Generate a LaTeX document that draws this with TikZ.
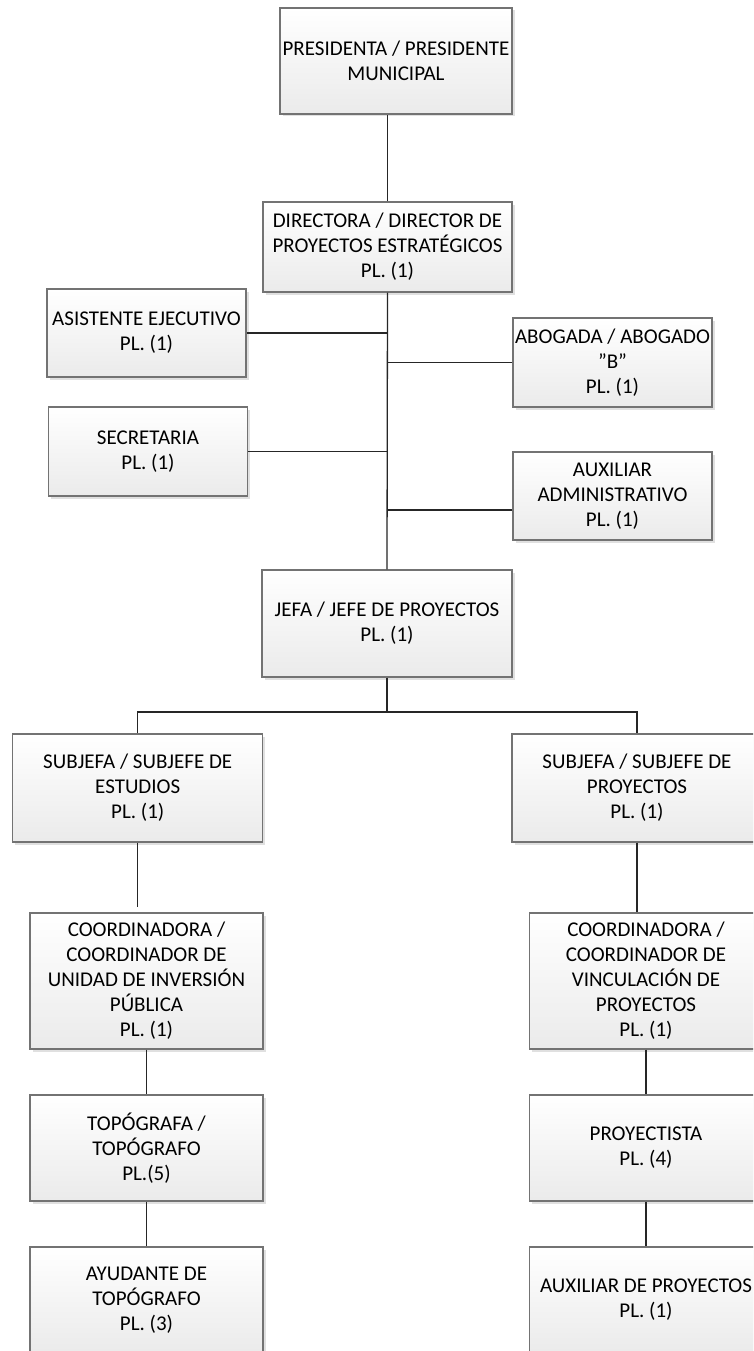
\documentclass[tikz,border=0pt]{standalone}
\usepackage{fontspec}
\setmainfont{Carlito}
\usetikzlibrary{shadows}
\begin{document}
\begin{tikzpicture}[x=1pt,y=-1pt,
  orgbox/.style={draw=black!55, line width=1.2pt, top color=white, bottom color=black!8,
    drop shadow={shadow xshift=2.5pt, shadow yshift=-2.5pt, fill=black!12, opacity=1},
    inner sep=0pt, align=center, font=\fontsize{21}{25}\selectfont},
  link/.style={draw=black!85, line width=1.3pt}]
\useasboundingbox (0,0) rectangle (753,1351);
\fill[white] (0,0) rectangle (753,1351);
\clip (0,0) rectangle (753,1351);

\node[orgbox, minimum width=232pt, minimum height=106pt] (pres) at (396,61) {PRESIDENTA / PRESIDENTE\\MUNICIPAL};
\node[orgbox, minimum width=249pt, minimum height=90pt] (dir) at (387.5,247) {DIRECTORA / DIRECTOR DE\\PROYECTOS ESTRATÉGICOS\\PL. (1)};
\node[orgbox, minimum width=199pt, minimum height=88pt] (asis) at (146.5,333) {ASISTENTE EJECUTIVO\\PL. (1)};
\node[orgbox, minimum width=199pt, minimum height=89pt] (abog) at (612.5,362.5) {ABOGADA / ABOGADO\\”B”\\PL. (1)};
\node[orgbox, minimum width=199pt, minimum height=89pt] (secr) at (148,451.5) {SECRETARIA\\PL. (1)};
\node[orgbox, minimum width=199pt, minimum height=88pt] (auxadm) at (612.5,496) {AUXILIAR\\ADMINISTRATIVO\\PL. (1)};
\node[orgbox, minimum width=250pt, minimum height=107pt] (jefa) at (387,623.5) {JEFA / JEFE DE PROYECTOS\\PL. (1)};
\node[orgbox, minimum width=250pt, minimum height=108pt] (subE) at (137.75,788) {SUBJEFA / SUBJEFE DE\\ESTUDIOS\\PL. (1)};
\node[orgbox, minimum width=250pt, minimum height=108pt] (subP) at (637,788) {SUBJEFA / SUBJEFE DE\\PROYECTOS\\PL. (1)};
\node[orgbox, minimum width=233pt, minimum height=136pt] (coordU) at (146.5,981) {COORDINADORA /\\COORDINADOR DE\\UNIDAD DE INVERSIÓN\\PÚBLICA\\PL. (1)};
\node[orgbox, minimum width=233pt, minimum height=136pt] (coordV) at (646,981) {COORDINADORA /\\COORDINADOR DE\\VINCULACIÓN DE\\PROYECTOS\\PL. (1)};
\node[orgbox, minimum width=233pt, minimum height=106pt] (topo) at (146.5,1148) {TOPÓGRAFA /\\TOPÓGRAFO\\PL.(5)};
\node[orgbox, minimum width=233pt, minimum height=106pt] (proy) at (646,1148) {PROYECTISTA\\PL. (4)};
\node[orgbox, minimum width=233pt, minimum height=106pt] (ayud) at (146.5,1300) {AYUDANTE DE\\TOPÓGRAFO\\PL. (3)};
\node[orgbox, minimum width=233pt, minimum height=106pt] (auxP) at (646,1300) {AUXILIAR DE PROYECTOS\\PL. (1)};

\coordinate (bus) at (387,712);
\coordinate (gapE) at (137.75,907);

\draw[link] (dir.north) -- (dir.north |- pres.south);
\draw[link] (dir.south) -- (jefa.north);
\draw[link] (asis.east) -- (asis.east -| dir.south);
\draw[link] (abog.west) -- (abog.west -| dir.south);
\draw[link] (secr.east) -- (secr.east -| dir.south);
\draw[link] ([yshift=-14pt]auxadm.west) -- ([yshift=-14pt]auxadm.west -| dir.south);
\draw[link] (jefa.south) -- (bus);
\draw[link] (subE.north) |- (bus) -| (subP.north);
\draw[link] (subE.south) -- (gapE);
\draw[link] (subP.south) -- (subP.south |- coordV.north);
\draw[link] (coordU.south) -- (topo.north);
\draw[link] (topo.south) -- (ayud.north);
\draw[link] (coordV.south) -- (proy.north);
\draw[link] (proy.south) -- (auxP.north);
\end{tikzpicture}
\end{document}
